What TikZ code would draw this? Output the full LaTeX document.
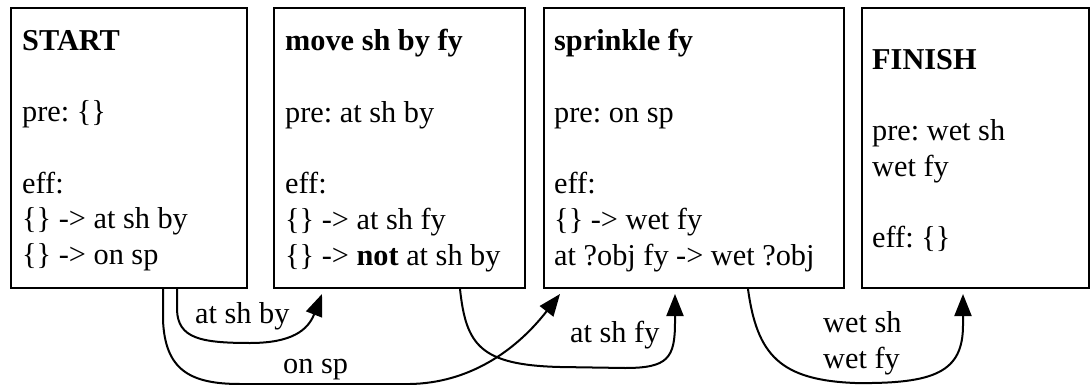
\documentclass[tikz,border=0pt]{standalone}
\usepackage{fontspec}
\setmainfont{Liberation Serif}
\usetikzlibrary{arrows.meta}
\frenchspacing
\begin{document}
\begin{tikzpicture}[x=1pt,y=-1pt,
  txt/.style={font=\fontsize{30.3}{35.7}\selectfont\frenchspacing, inner sep=0pt, align=left},
  opbox/.style={draw, line width=2pt, rectangle, minimum height=280pt, inner sep=0pt, anchor=north west},
  link/.style={line width=2pt, -{Triangle[length=22pt,width=17pt]}},
  lbl/.style={font=\fontsize{30.3}{35.7}\selectfont, inner sep=0pt, anchor=base west}
]
\useasboundingbox (0,0) rectangle (1091,385);

% boxes
\node[opbox, minimum width=236pt] (start) at (10,7) {};
\node[opbox, minimum width=251pt] (move) at (273,7) {};
\node[opbox, minimum width=300pt] (sprinkle) at (543,7) {};
\node[opbox, minimum width=227pt] (finish) at (861,7) {};

% box texts
\node[txt, anchor=west] (startT) at ([xshift=12pt,yshift=-2.5pt]start.west)
  {\textbf{START}\\[35.7pt]pre: \{\}\\[35.7pt]eff:\\\{\} -> at sh by\\\{\} -> on sp};
\node[txt, anchor=west] (moveT) at ([xshift=12pt,yshift=-2.5pt]move.west)
  {\textbf{move sh by fy}\\[35.7pt]pre: at sh by\\[35.7pt]eff:\\\{\} -> at sh fy\\\{\} -> \textbf{not} at sh by};
\node[txt, anchor=west] (sprinkleT) at ([xshift=11pt,yshift=-2.5pt]sprinkle.west)
  {\textbf{sprinkle fy}\\[35.7pt]pre: on sp\\[35.7pt]eff:\\\{\} -> wet fy\\at ?obj fy -> wet ?obj};
\node[txt, anchor=west] (finishT) at ([xshift=11pt,yshift=-2.5pt]finish.west)
  {\textbf{FINISH}\\[35.7pt]pre: wet sh\\wet fy\\[35.7pt]eff: \{\}};

% connector end points
\coordinate (s1) at ([xshift=167pt]start.south west);
\coordinate (t1) at ([xshift=49pt,yshift=-5pt]move.south west);
\coordinate (s2) at ([xshift=153pt]start.south west);
\coordinate (t2) at ([xshift=17pt,yshift=-5pt]sprinkle.south west);
\coordinate (s3) at ([xshift=187pt]move.south west);
\coordinate (t3) at ([xshift=132pt,yshift=-5pt]sprinkle.south west);
\coordinate (s4) at ([xshift=205pt]sprinkle.south west);
\coordinate (t4) at ([xshift=102pt,yshift=-5pt]finish.south west);

% connectors
\draw[link] (s1) -- (177,310) .. controls (178,338) and (200,343) .. (250,343)
  .. controls (292,343) and (308,330) .. (t1);
\draw[link] (s2) -- (163,320) .. controls (165,370) and (190,384) .. (240,384)
  -- (410,384) .. controls (468,383) and (515,352) .. (t2);
\draw[link] (s3) .. controls (466,345) and (480,365) .. (560,367) -- (625,368)
  .. controls (668,368) and (675,358) .. (675,322) -- (t3);
\draw[link] (s4) .. controls (757,355) and (780,380) .. (855,383)
  .. controls (935,384) and (963,372) .. (963,325) -- (t4);

% connector labels
\node[lbl] (l1) at (195,323) {at sh by};
\node[lbl] (l2) at (283,373) {on sp};
\node[lbl] (l3) at (570,342) {at sh fy};
\node[txt, anchor=west] (l4) at (823,343.2) {wet sh\\wet fy};
\end{tikzpicture}
\end{document}
